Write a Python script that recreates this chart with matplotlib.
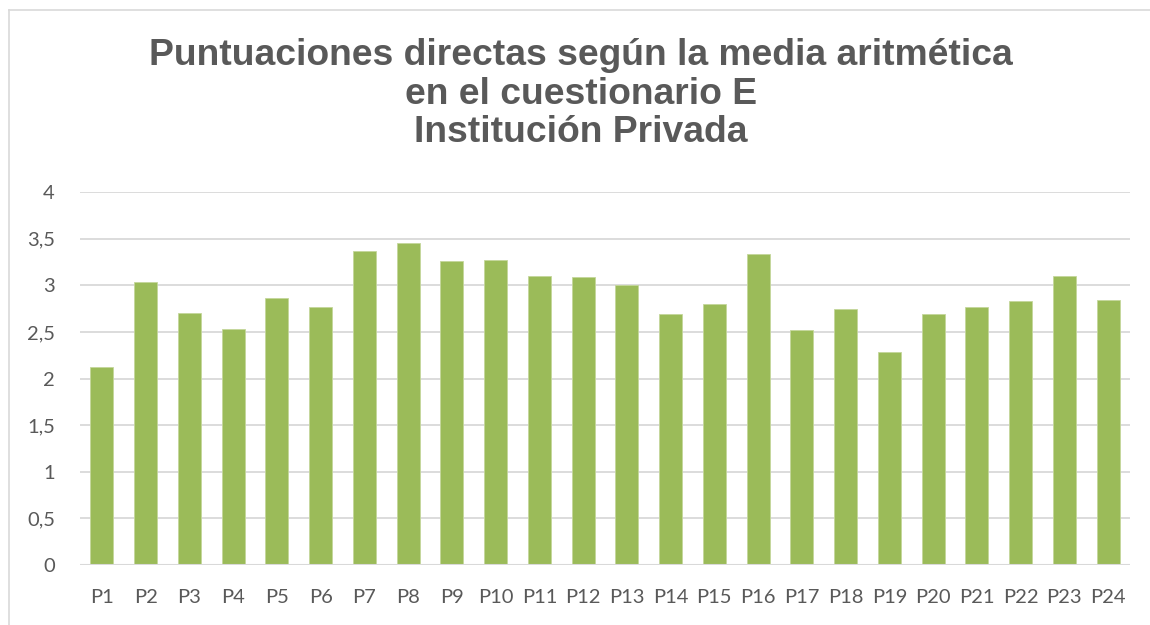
import matplotlib
matplotlib.use("Agg")
import matplotlib.pyplot as plt
from matplotlib.lines import Line2D

categories = [f"P{i}" for i in range(1, 25)]
values = [2.12, 3.03, 2.70, 2.53, 2.86, 2.77, 3.37, 3.45, 3.26, 3.27, 3.10, 3.09,
          3.00, 2.69, 2.80, 3.34, 2.52, 2.75, 2.28, 2.69, 2.77, 2.83, 3.10, 2.84]
yticks = [0, 0.5, 1, 1.5, 2, 2.5, 3, 3.5, 4]
ytick_labels = ["0", "0,5", "1", "1,5", "2", "2,5", "3", "3,5", "4"]
title = "Puntuaciones directas según la media aritmética\nen el cuestionario E\nInstitución Privada"

W, H = 1150, 625
fig = plt.figure(figsize=(W / 100, H / 100), dpi=100)
ax = fig.add_axes([80 / W, 1 - 565 / H, 1050 / W, (565 - 192) / H])

x = range(len(categories))
ax.bar(x, values, width=0.53, color="#9BBB59", edgecolor="#C4D79B", linewidth=0.6, zorder=2)
ax.set_xlim(-0.5, len(categories) - 0.5)
ax.set_ylim(0, 4)
ax.set_yticks(yticks)
ax.set_yticklabels(ytick_labels)
ax.set_xticks(list(x))
ax.set_xticklabels(categories)
ax.yaxis.grid(True, color="#D9D9D9", linewidth=1.3, zorder=0)
ax.set_axisbelow(True)
ax.axhline(0, color="#D9D9D9", linewidth=1.5, zorder=3)
for s in ax.spines.values():
    s.set_visible(False)
ax.tick_params(axis="both", length=0, labelsize=14.5, labelcolor="#595959")
ax.tick_params(axis="x", pad=17)
ax.tick_params(axis="y", pad=18)
for lbl in ax.get_xticklabels() + ax.get_yticklabels():
    lbl.set_fontfamily("Lato")

fig.text(0.5 + 6 / W, 1 - 94 / H, title, ha="center", va="center", fontsize=26.8,
         fontweight="bold", color="#595959", family="Liberation Sans", linespacing=1.14)

# chart area border (top and left)
fig.add_artist(Line2D([9 / W, 1.0], [1 - 10 / H, 1 - 10 / H], color="#D9D9D9", linewidth=1.2))
fig.add_artist(Line2D([9 / W, 9 / W], [0, 1 - 10 / H], color="#D9D9D9", linewidth=1.2))

fig.savefig("out.png", dpi=100)
